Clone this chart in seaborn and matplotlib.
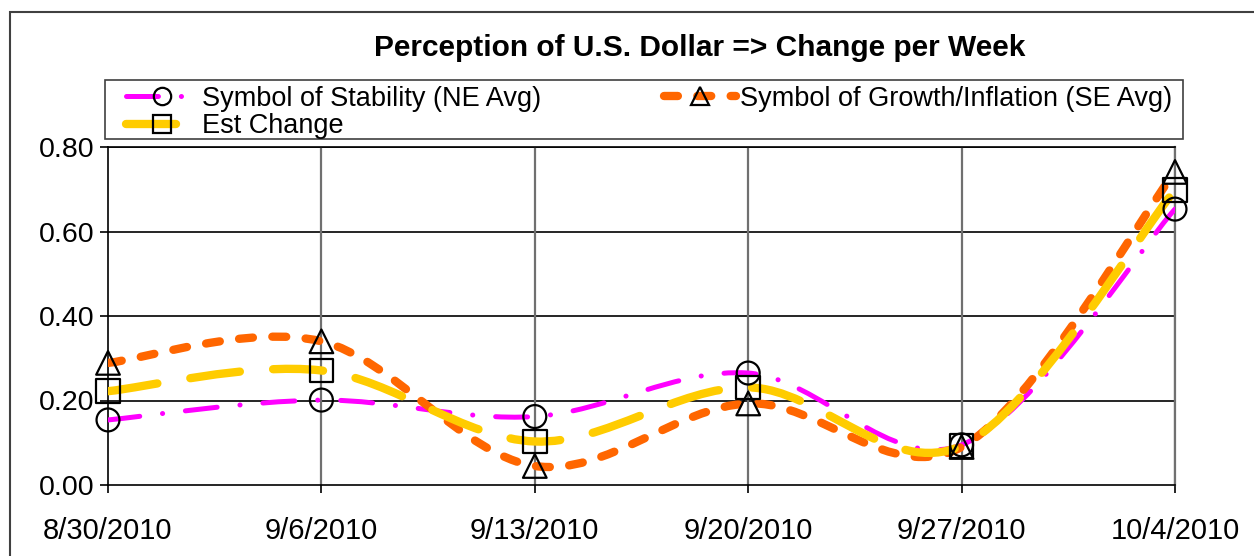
import matplotlib
matplotlib.use("Agg")
import matplotlib.pyplot as plt
import seaborn as sns
import numpy as np
from matplotlib.path import Path
from matplotlib.patches import PathPatch, Rectangle
from matplotlib.lines import Line2D

# ---- data ----
dates = ["8/30/2010", "9/6/2010", "9/13/2010", "9/20/2010", "9/27/2010", "10/4/2010"]
stability_ne = [0.154, 0.201, 0.162, 0.265, 0.095, 0.653]
growth_se = [0.289, 0.340, 0.045, 0.193, 0.090, 0.741]
est_change = [0.222, 0.271, 0.103, 0.231, 0.093, 0.698]
labels = ["Symbol of Stability (NE Avg)", "Symbol of Growth/Inflation (SE Avg)", "Est Change"]
title = "Perception of U.S. Dollar => Change per Week"
yticks = [0.0, 0.2, 0.4, 0.6, 0.8]

sns.set_theme(style="white")
plt.rcParams["font.family"] = ["Liberation Sans", "DejaVu Sans"]
plt.rcParams["lines.scale_dashes"] = False
plt.rcParams["text.color"] = "black"
plt.rcParams["xtick.color"] = "black"
plt.rcParams["ytick.color"] = "black"
plt.rcParams["axes.labelcolor"] = "black"

FS = 19.5

fig = plt.figure(figsize=(12.54, 5.56), dpi=100)
ax = fig.add_axes([108 / 1254, 1 - 485 / 556, (1175 - 108) / 1254, (485 - 147) / 556])
x = np.arange(len(dates))


def smooth_path(xs, ys):
    pts = np.column_stack([xs, ys]).astype(float)
    n = len(pts)
    ext = np.vstack([pts[0], pts, pts[-1]])
    verts = [pts[0]]
    codes = [Path.MOVETO]
    for i in range(n - 1):
        p0, p1, p2, p3 = ext[i], ext[i + 1], ext[i + 2], ext[i + 3]
        c1 = p1 + (p2 - p0) / 6.0
        c2 = p2 - (p3 - p1) / 6.0
        verts += [c1, c2, p2]
        codes += [Path.CURVE4] * 3
    return Path(verts, codes)


styles = [
    dict(color="#FF00FF", lw=3.6, ls=(0, (23, 16.5, 0.1, 16.5)), marker="o", ms=16.5),
    dict(color="#FF6600", lw=6.0, ls=(0, (10, 14)), marker="^", ms=17),
    dict(color="#FFCC00", lw=6.0, ls=(0, (36, 24)), marker="s", ms=17),
]
series = [stability_ne, growth_se, est_change]

for ys, st in zip(series, styles):
    patch = PathPatch(smooth_path(x, ys), facecolor="none", edgecolor=st["color"],
                      lw=st["lw"], ls=st["ls"], capstyle="round", joinstyle="round",
                      zorder=3)
    ax.add_patch(patch)

for ys, st in zip(series, styles):
    sns.scatterplot(x=x, y=ys, marker=st["marker"], s=st["ms"] ** 2, color="black",
                    facecolor="none", edgecolor="black", linewidth=1.6, ax=ax,
                    zorder=5, clip_on=False)

ax.set_xlim(0, 5)
ax.set_ylim(0, 0.8)
ax.set_yticks(yticks)
ax.set_yticklabels([f"{v:.2f}" for v in yticks], fontsize=20.5)
ax.set_xticks(x)
ax.set_xticklabels(dates, fontsize=21)
ax.tick_params(axis="both", direction="out", length=6, width=1.2, color="black",
               left=True, bottom=True, pad=4)
ax.tick_params(axis="x", pad=17)
ax.set_xlabel("")
ax.set_ylabel("")

for yv in yticks[1:]:
    ax.axhline(yv, color="black", lw=1.2, zorder=1)
for xv in x[1:]:
    ax.axvline(xv, color="#707070", lw=1.6, zorder=1)

for s in ["left", "bottom", "top"]:
    ax.spines[s].set_color("black")
    ax.spines[s].set_linewidth(1.2)
ax.spines["right"].set_color("#707070")
ax.spines["right"].set_linewidth(1.6)

fig.text(699.5 / 1254, 1 - 48 / 556, title, ha="center", va="center",
         fontsize=21.5, fontweight="bold")

handles = []
for st, lab in zip(styles, labels):
    handles.append(Line2D([], [], color=st["color"], lw=st["lw"], ls=st["ls"],
                          dash_capstyle="round", marker=st["marker"], ms=12.5,
                          mfc="none", mec="black", mew=1.6, label=lab))
order = [0, 2, 1]
leg = fig.legend([handles[i] for i in order], [labels[i] for i in order], ncol=2,
                 loc="lower left", mode="expand",
                 bbox_to_anchor=(126 / 1254, 1 - 139 / 556, (1172 - 126) / 1254, 58 / 556),
                 bbox_transform=fig.transFigure, borderaxespad=0, fontsize=FS,
                 frameon=False, handlelength=2.65, handletextpad=0.15,
                 labelspacing=0.05, borderpad=0.0, columnspacing=1.0)

fig.add_artist(Rectangle((105 / 1254, 1 - 139 / 556), (1183 - 105) / 1254, 59 / 556,
                         transform=fig.transFigure, facecolor="white",
                         edgecolor="#404040", lw=1.2, zorder=0.5))

fig.add_artist(Rectangle((10 / 1254, -0.1), 1.2, 1.1 - 12 / 556, transform=fig.transFigure,
                         facecolor="none", edgecolor="#404040", lw=1.5))

fig.savefig("out.png", dpi=100)
